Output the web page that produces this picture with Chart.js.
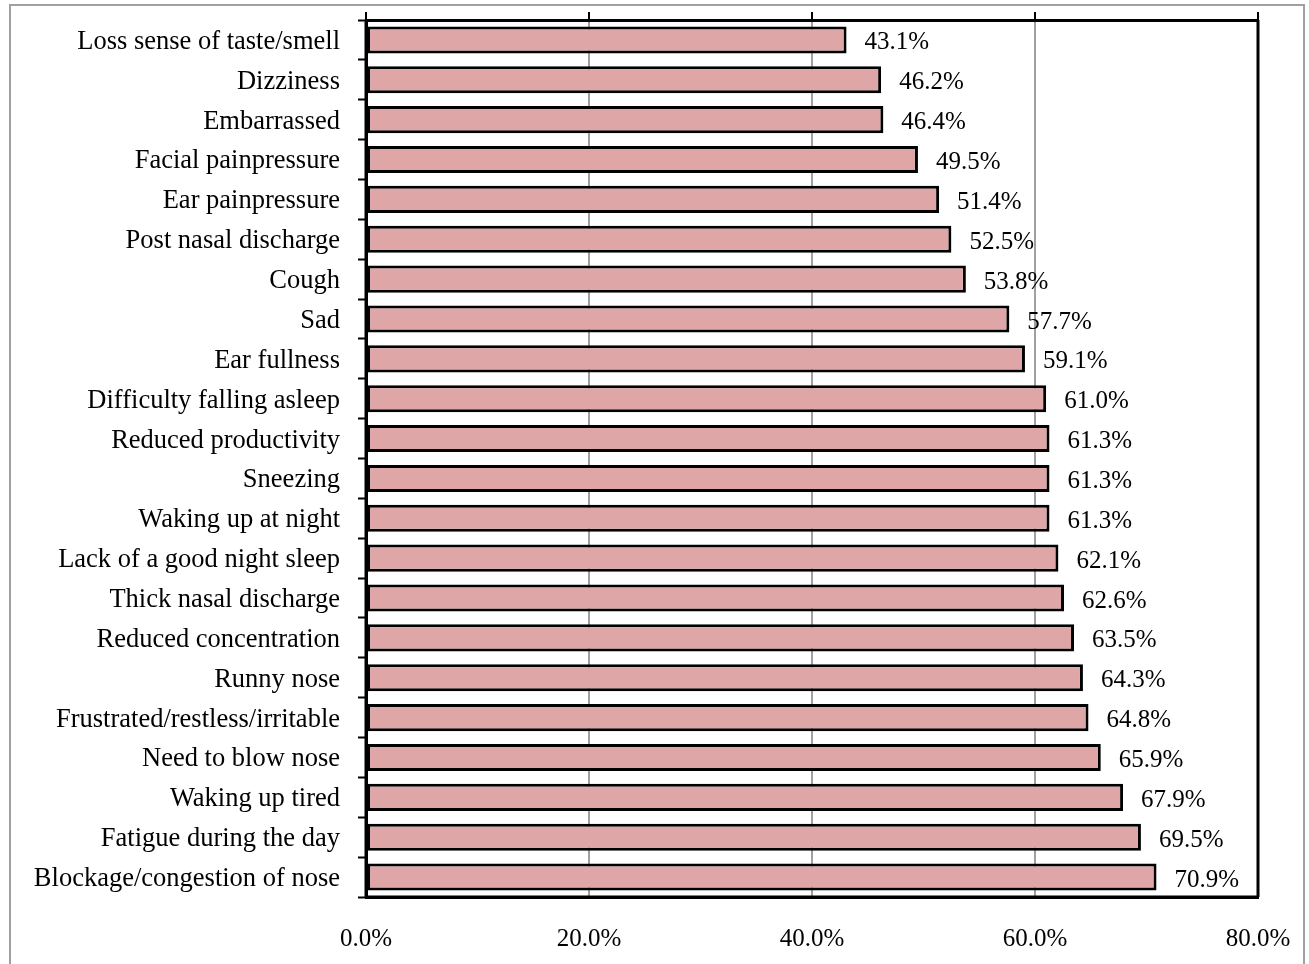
<!DOCTYPE html>
<html>
<head>
<meta charset="utf-8">
<script src="https://cdn.jsdelivr.net/npm/chart.js@4/dist/chart.umd.min.js"></script>
<style>
  html, body { margin: 0; padding: 0; background: #fff; }
  #wrap { position: relative; width: 1309px; height: 964px; overflow: hidden; }
  #frame { position: absolute; left: 9px; top: 4px; width: 1296px; height: 1000px; border: 2px solid #a0a0a0; box-sizing: border-box; pointer-events: none; }
  canvas { position: absolute; left: 0; top: 0; }
</style>
</head>
<body>
<div id="wrap">
  <div id="frame"></div>
  <canvas id="c" width="1309" height="964"></canvas>
</div>
<script>
const categories = [
  "Loss sense of taste/smell",
  "Dizziness",
  "Embarrassed",
  "Facial painpressure",
  "Ear painpressure",
  "Post nasal discharge",
  "Cough",
  "Sad",
  "Ear fullness",
  "Difficulty falling asleep",
  "Reduced productivity",
  "Sneezing",
  "Waking up at night",
  "Lack of a good night sleep",
  "Thick nasal discharge",
  "Reduced concentration",
  "Runny nose",
  "Frustrated/restless/irritable",
  "Need to blow nose",
  "Waking up tired",
  "Fatigue during the day",
  "Blockage/congestion of nose"
];
const percentValues = [43.1, 46.2, 46.4, 49.5, 51.4, 52.5, 53.8, 57.7, 59.1, 61.0, 61.3, 61.3, 61.3, 62.1, 62.6, 63.5, 64.3, 64.8, 65.9, 67.9, 69.5, 70.9];
const xTickValues = [0, 20, 40, 60, 80];

const FAMILY = "'Liberation Serif', 'Times New Roman', serif";
const CAT_FONT = { family: FAMILY, size: 26.5 };
const AXIS_FONT = { family: FAMILY, size: 25 };
const VALUE_FONT_SIZE = 25;

const valueLabels = {
  id: 'valueLabels',
  afterDatasetsDraw(chart) {
    const ctx = chart.ctx;
    const meta = chart.getDatasetMeta(0);
    ctx.save();
    ctx.font = VALUE_FONT_SIZE + "px " + FAMILY;
    ctx.fillStyle = '#000';
    ctx.textAlign = 'left';
    ctx.textBaseline = 'middle';
    meta.data.forEach((bar, i) => {
      ctx.fillText(percentValues[i].toFixed(1) + '%', bar.x + 18, bar.y + 3);
    });
    ctx.restore();
  }
};

const areaBorder = {
  id: 'areaBorder',
  afterDatasetsDraw(chart) {
    const a = chart.chartArea;
    const ctx = chart.ctx;
    ctx.save();
    ctx.strokeStyle = '#000';
    ctx.lineWidth = 3;
    ctx.beginPath();
    ctx.moveTo(a.right, a.top);
    ctx.lineTo(a.right, a.bottom);
    ctx.moveTo(a.left, a.bottom);
    ctx.lineTo(a.right, a.bottom);
    ctx.moveTo(a.left, a.top);
    ctx.lineTo(a.left, a.bottom);
    ctx.stroke();
    ctx.restore();
  }
};

function zeroPad(s) { s.paddingTop = 0; s.paddingBottom = 0; s.paddingLeft = 0; s.paddingRight = 0; }

new Chart(document.getElementById('c'), {
  type: 'bar',
  data: {
    labels: categories,
    datasets: [{
      data: percentValues,
      backgroundColor: '#DEA6A6',
      borderColor: '#000',
      borderWidth: 3,
      borderSkipped: false,
      categoryPercentage: 0.68,
      barPercentage: 1.0,
      xAxisID: 'x'
    }]
  },
  options: {
    responsive: false,
    animation: false,
    indexAxis: 'y',
    layout: { padding: { left: 0, right: 51, top: 0, bottom: 0 } },
    plugins: { legend: { display: false }, tooltip: { enabled: false } },
    scales: {
      x: {
        position: 'top',
        min: 0, max: 80,
        afterBuildTicks(s) { s.ticks = xTickValues.map(v => ({ value: v })); },
        afterFit(s) { s.height = 20; zeroPad(s); },
        ticks: { display: false },
        grid: { color: '#a0a0a0', lineWidth: 2, tickLength: 8, tickColor: '#000', tickWidth: 2 },
        border: { display: true, color: '#000', width: 3 }
      },
      x2: {
        position: 'bottom',
        min: 0, max: 80,
        afterBuildTicks(s) { s.ticks = xTickValues.map(v => ({ value: v })); },
        afterFit(s) { s.height = 67; zeroPad(s); },
        ticks: {
          font: AXIS_FONT, color: '#000', padding: 27, maxRotation: 0,
          callback: (v) => Number(v).toFixed(1) + '%'
        },
        grid: { display: true, drawOnChartArea: false, drawTicks: false },
        border: { display: true, color: '#000', width: 3 }
      },
      y: {
        position: 'left',
        afterFit(s) { s.width = 366; zeroPad(s); },
        ticks: { font: CAT_FONT, color: '#000', padding: 18, autoSkip: false, labelOffset: 2 },
        grid: { offset: true, drawOnChartArea: false, drawTicks: true, tickLength: 8, tickColor: '#000', tickWidth: 2 },
        border: { display: true, color: '#000', width: 3 }
      }
    }
  },
  plugins: [valueLabels, areaBorder]
});
</script>
</body>
</html>
